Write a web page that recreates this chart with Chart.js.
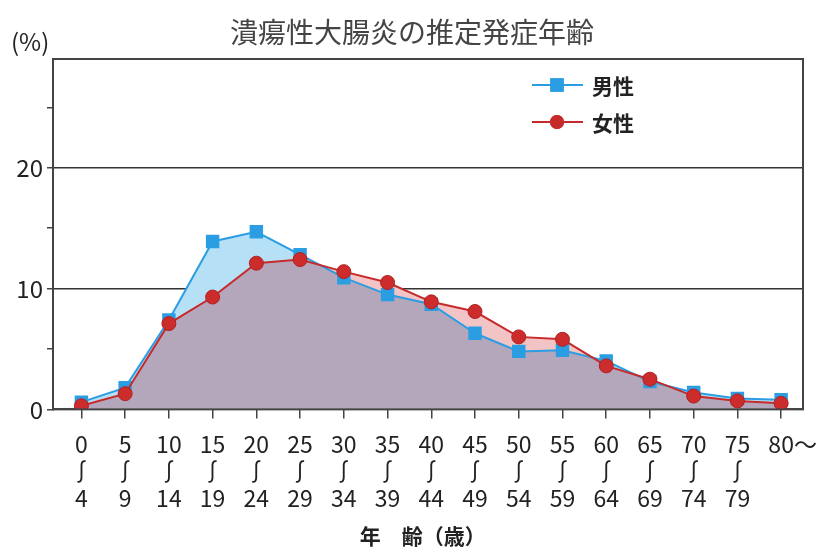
<!DOCTYPE html>
<html>
<head>
<meta charset="utf-8">
<script src="https://cdn.jsdelivr.net/npm/chart.js@4"></script>
<style>
  html, body { margin: 0; padding: 0; background: #fff; }
  #wrap { width: 839px; height: 555px; position: relative; }
</style>
</head>
<body>
<div id="wrap"><canvas id="chart"></canvas></div>
<script>
// 年齢階級（5歳刻み）
const ageLabels = [
  ['0','∫','4'], ['5','∫','9'], ['10','∫','14'], ['15','∫','19'], ['20','∫','24'],
  ['25','∫','29'], ['30','∫','34'], ['35','∫','39'], ['40','∫','44'], ['45','∫','49'],
  ['50','∫','54'], ['55','∫','59'], ['60','∫','64'], ['65','∫','69'], ['70','∫','74'],
  ['75','∫','79'], ['\u2002\u200280〜','','']
];
// 推定発症年齢の割合 (%)
const maleVals   = [0.6, 1.8, 7.4, 13.9, 14.7, 12.8, 10.9, 9.5, 8.7, 6.3, 4.8, 4.9, 4.0, 2.3, 1.4, 0.9, 0.8];
const femaleVals = [0.3, 1.3, 7.1, 9.3, 12.1, 12.4, 11.4, 10.5, 8.9, 8.1, 6.0, 5.8, 3.6, 2.5, 1.1, 0.7, 0.5];
const yTicks = [0, 5, 10, 15, 20, 25];
const yLabeled = [0, 10, 20];

const FONT = '"Noto Sans CJK JP", "Noto Sans", sans-serif';
const BLUE = '#2b9de2';
const RED = '#c62a2a';

const toPts = arr => arr.map((v, i) => ({ x: i, y: v }));

// タイトル・枠線・(%)・凡例
const extras = {
  id: 'extras',
  afterDraw(chart) {
    const { ctx, chartArea: a } = chart;
    ctx.save();
    ctx.strokeStyle = '#444';
    ctx.lineWidth = 2;
    ctx.strokeRect(a.left, a.top, a.right - a.left, a.bottom - a.top);

    ctx.textBaseline = 'middle';
    ctx.textAlign = 'center';
    ctx.fillStyle = '#444';
    ctx.font = '28px ' + FONT;
    ctx.fillText('潰瘍性大腸炎の推定発症年齢', 412, 32);

    ctx.fillStyle = '#222';
    ctx.font = '24px ' + FONT;
    ctx.textAlign = 'left';
    ctx.fillText('(%)', 11, 42);

    // legend
    const items = [
      { text: '男性', color: BLUE, style: 'rect', r: 9.5, y: 85 },
      { text: '女性', color: RED, style: 'circle', r: 7, y: 122 }
    ];
    items.forEach(it => {
      ctx.strokeStyle = it.color;
      ctx.lineWidth = 2;
      ctx.beginPath();
      ctx.moveTo(532, it.y);
      ctx.lineTo(583, it.y);
      ctx.stroke();
      ctx.fillStyle = it.color;
      Chart.helpers.drawPoint(ctx, { pointStyle: it.style, radius: it.r, rotation: 0, borderWidth: 0 }, 557, it.y);
      ctx.fill();
      ctx.fillStyle = '#222';
      ctx.font = 'bold 21px ' + FONT;
      ctx.fillText(it.text, 592, it.y + 1);
    });
    ctx.restore();
  }
};

new Chart(document.getElementById('chart'), {
  type: 'line',
  data: {
    datasets: [
      {
        label: '男性',
        data: toPts(maleVals),
        borderColor: BLUE,
        borderWidth: 2,
        pointStyle: 'rect',
        pointRadius: 9.5,
        pointBackgroundColor: BLUE,
        pointBorderWidth: 0,
        backgroundColor: '#b4a7bc',
        fill: 'origin',
        tension: 0,
        order: 1
      },
      {
        label: '女性',
        data: toPts(femaleVals),
        borderColor: RED,
        borderWidth: 2,
        pointStyle: 'circle',
        pointRadius: 7,
        pointBackgroundColor: '#cc2c2c',
        pointBorderColor: '#b02222',
        pointBorderWidth: 1,
        fill: { target: 0, above: '#f2c4c6', below: '#b6e0f5' },
        tension: 0,
        order: 0
      }
    ]
  },
  options: {
    responsive: true,
    maintainAspectRatio: false,
    animation: false,
    layout: { padding: { left: 0, right: 36, top: 59, bottom: 0 } },
    plugins: {
      legend: { display: false },
      tooltip: { enabled: false },
      filler: { drawTime: 'beforeDatasetsDraw' },
      title: { display: false }
    },
    scales: {
      x: {
        type: 'linear',
        min: -0.65,
        max: 16.5,
        afterBuildTicks: s => { s.ticks = ageLabels.map((_, i) => ({ value: i })); },
        ticks: {
          autoSkip: false,
          maxRotation: 0,
          minRotation: 0,
          padding: 12,
          color: '#222',
          font: { family: FONT, size: 23, lineHeight: 1.18 },
          callback: v => ageLabels[v]
        },
        grid: { drawOnChartArea: false, tickLength: 9, color: '#444', lineWidth: 1.5 },
        border: { display: true, color: '#444', width: 2 },
        title: {
          display: true,
          text: '年　齢（歳）　',
          color: '#222',
          font: { family: FONT, size: 21, weight: 'bold' },
          padding: { top: 0, bottom: 6 }
        }
      },
      y: {
        min: 0,
        max: 29,
        afterBuildTicks: s => { s.ticks = yTicks.map(v => ({ value: v })); },
        afterFit: s => { s.width = 53; },
        ticks: {
          padding: 4,
          color: '#222',
          font: { family: FONT, size: 24 },
          callback: v => (yLabeled.includes(v) ? String(v) : '')
        },
        grid: {
          tickLength: 6,
          lineWidth: 1.5,
          color: c => (c.tick && (c.tick.value === 10 || c.tick.value === 20) ? '#333' : 'rgba(0,0,0,0)'),
          tickColor: '#444'
        },
        border: { display: true, color: '#444', width: 2 }
      }
    }
  },
  plugins: [extras]
});
</script>
</body>
</html>
